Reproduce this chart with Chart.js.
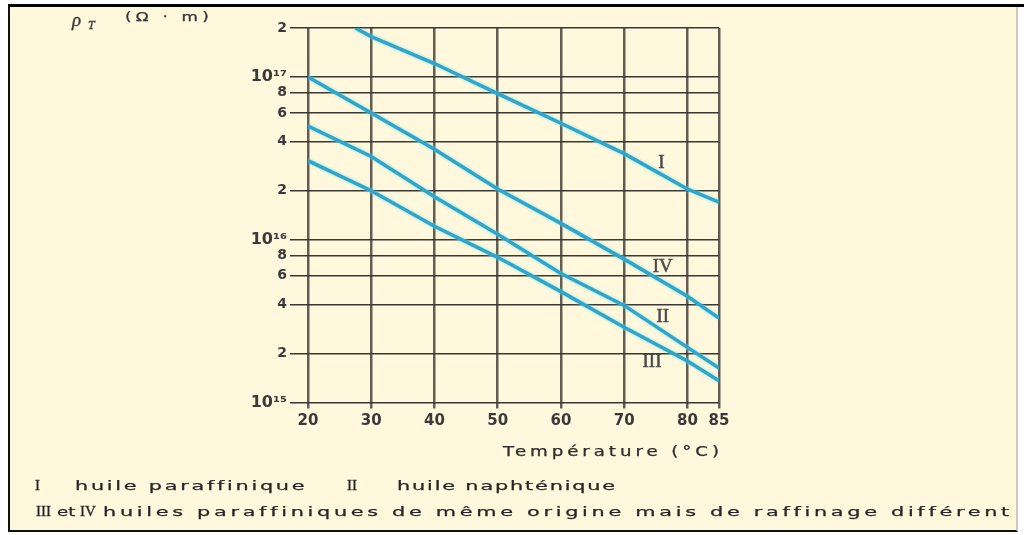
<!DOCTYPE html>
<html>
<head>
<meta charset="utf-8">
<script src="https://cdn.jsdelivr.net/npm/chart.js@4.4.1/dist/chart.umd.min.js"></script>
<style>
  html, body { margin:0; padding:0; width:1024px; height:535px; overflow:hidden; background:#ffffff; }
  #frame { position:absolute; left:8px; top:4px; width:1010px; height:528px; box-sizing:border-box;
           background:#fff8dc; border-left:2px solid #111; border-bottom:2px solid #111; border-right:2px solid #cfcabb; }
  #topline { position:absolute; left:8px; top:4px; width:1016px; height:3px; background:#000; }
  #chart { position:absolute; left:0; top:0; }
  .t { position:absolute; display:block; white-space:nowrap; line-height:1; color:#262626;
       font-family:"DejaVu Sans", sans-serif; -webkit-text-stroke:0.25px #262626; }
  .serif { font-family:"Liberation Serif", "Times New Roman", serif; -webkit-text-stroke:0.3px #262626; }
</style>
</head>
<body>
<div id="frame"></div>
<div id="topline"></div>
<canvas id="chart" width="1024" height="535"></canvas>

<div class="t serif" style="left:72px; top:10px; font-style:italic; font-size:19px; color:#3a3a3a;">ρ</div>
<div class="t serif" style="left:88px; top:19px; font-style:italic; font-size:12px; color:#3a3a3a;">T</div>
<div class="t" id="ytitle" style="left:125px; top:11px; font-size:12px; color:#3a3a3a;">(Ω · m)</div>

<div class="t" id="xtitle" style="left:503px; top:444px; font-size:14px; color:#303030;">Température (°C)</div>

<div class="t serif" style="left:35px; top:478px; font-size:15px;">I</div>
<div class="t" id="leg1" style="left:75px; top:479px; font-size:13px;">huile paraffinique</div>
<div class="t serif" style="left:347px; top:478px; font-size:15px;">II</div>
<div class="t" id="leg2" style="left:397px; top:479px; font-size:13px;">huile naphténique</div>

<div class="t serif" style="left:36px; top:504px; font-size:15px;">III</div>
<div class="t" id="leg_et" style="left:57px; top:505px; font-size:13px;">et</div>
<div class="t serif" style="left:80px; top:504px; font-size:15px;">IV</div>
<div class="t" id="leg3" style="left:103px; top:505px; font-size:13px;">huiles paraffiniques de même origine mais de raffinage différent</div>

<script>
// ---------------- data ----------------
const temps  = [20, 30, 40, 50, 60, 70, 80, 85];
const tempsI = [27.5, 30, 40, 50, 60, 70, 80, 85];
const rhoI   = [2.0e17, 1.77e17, 1.21e17, 7.9e16, 5.2e16, 3.38e16, 2.05e16, 1.7e16];
const rhoII  = [5.0e16, 3.25e16, 1.84e16, 1.08e16, 6.2e15, 3.95e15, 2.18e15, 1.63e15];
const rhoIII = [3.06e16, 2.0e16, 1.21e16, 7.8e15, 4.8e15, 2.9e15, 1.8e15, 1.36e15];
const rhoIV  = [1.0e17, 6.0e16, 3.6e16, 2.05e16, 1.26e16, 7.6e15, 4.5e15, 3.3e15];

const xTickValues = [20, 30, 40, 50, 60, 70, 80, 85];
const xTickLabels = ['20', '30', '40', '50', '60', '70', '80', '85'];
const yTickValues = [1e15, 2e15, 4e15, 6e15, 8e15, 1e16, 2e16, 4e16, 6e16, 8e16, 1e17, 2e17];
const yTickLabels = ['10¹⁵', '2', '4', '6', '8', '10¹⁶', '2', '4', '6', '8', '10¹⁷', '2'];

const curveNames    = ['I', 'II', 'III', 'IV'];
const curveLabelT   = [75.9, 76.1, 74.4, 76.1];
const curveLabelRho = [2.95e16, 3.37e15, 1.78e15, 6.84e15];
// --------------------------------------

function pts(xs, ys) { return xs.map((x, i) => ({ x: x, y: ys[i] })); }

const lineStyle = { borderColor:'#2ea6ca', borderWidth:3.5, pointRadius:0, tension:0, fill:false };

const curveLabelPlugin = {
  id: 'curveLabels',
  afterDatasetsDraw(chart) {
    const ctx = chart.ctx, xs = chart.scales.x, ys = chart.scales.y;
    ctx.save();
    ctx.font = '19px "Liberation Serif", "Times New Roman", serif';
    ctx.fillStyle = '#4a4a4a';
    ctx.strokeStyle = '#4a4a4a';
    ctx.lineWidth = 0.5;
    ctx.textAlign = 'center';
    ctx.textBaseline = 'middle';
    curveNames.forEach((n, i) => {
      const px = xs.getPixelForValue(curveLabelT[i]), py = ys.getPixelForValue(curveLabelRho[i]);
      ctx.fillText(n, px, py);
      ctx.strokeText(n, px, py);
    });
    ctx.restore();
  }
};

const glowPlugin = {
  id: 'glow',
  beforeDatasetDraw(chart) {
    chart.ctx.save();
    chart.ctx.shadowColor = 'rgba(110,215,245,0.9)';
    chart.ctx.shadowBlur = 3;
  },
  afterDatasetDraw(chart) { chart.ctx.restore(); }
};

new Chart(document.getElementById('chart'), {
  type: 'line',
  data: {
    datasets: [
      Object.assign({ label: 'I',   data: pts(tempsI, rhoI) },  lineStyle),
      Object.assign({ label: 'II',  data: pts(temps, rhoII) },  lineStyle),
      Object.assign({ label: 'III', data: pts(temps, rhoIII) }, lineStyle),
      Object.assign({ label: 'IV',  data: pts(temps, rhoIV) },  lineStyle)
    ]
  },
  options: {
    responsive: false,
    animation: false,
    devicePixelRatio: 1,
    layout: { padding: { left: 0, top: 28, right: 305, bottom: 82.5 } },
    plugins: { legend: { display: false }, tooltip: { enabled: false } },
    scales: {
      x: {
        type: 'linear', min: 20, max: 85,
        afterBuildTicks: s => { s.ticks = xTickValues.map(v => ({ value: v })); },
        afterFit: s => { s.height = 50; },
        ticks: {
          callback: (v, i) => xTickLabels[i],
          autoSkip: false, maxRotation: 0, padding: 4,
          color: '#3a3a3a',
          font: { family: 'DejaVu Sans', size: 15, weight: 'bold' }
        },
        grid: { color: '#625c52', lineWidth: 2.5, tickLength: 6 },
        border: { display: false }
      },
      y: {
        type: 'logarithmic', min: 1e15, max: 2e17,
        afterBuildTicks: s => { s.ticks = yTickValues.map(v => ({ value: v })); },
        afterFit: s => { s.width = 308; },
        ticks: {
          callback: (v, i) => yTickLabels[i],
          autoSkip: false, padding: 3,
          color: '#3a3a3a',
          font: ctx => ({ family: 'DejaVu Sans', weight: 'bold',
                          size: (yTickLabels[ctx.index] || '').length > 1 ? 16 : 14 })
        },
        grid: { color: '#3a3834', lineWidth: 1.5, tickLength: 18 },
        border: { display: false }
      }
    }
  },
  plugins: [glowPlugin, curveLabelPlugin]
});

function fit(id, w, s) {
  const el = document.getElementById(id);
  el.style.letterSpacing = '0px';
  const n = el.textContent.length;
  const w0 = el.getBoundingClientRect().width;
  el.style.transformOrigin = 'left top';
  el.style.transform = 'scaleX(' + s + ')';
  el.style.letterSpacing = Math.max(0, (w / s - w0) / n) + 'px';
}
fit('xtitle', 220, 1.3);
fit('leg1', 232, 1.6);
fit('leg2', 220, 1.6);
fit('leg_et', 16, 1.4);
fit('leg3', 909, 1.6);
fit('ytitle', 88, 1.4);
</script>
</body>
</html>
